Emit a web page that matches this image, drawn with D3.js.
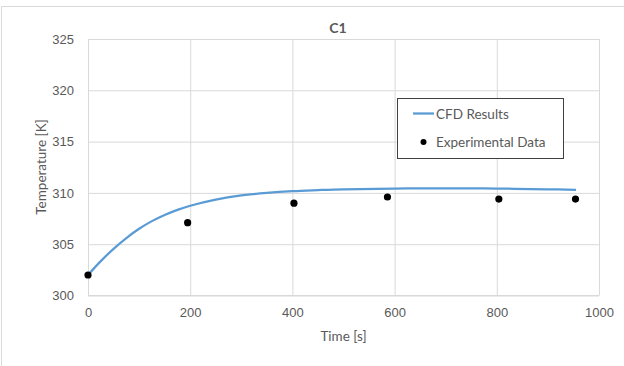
<!DOCTYPE html>
<html><head><meta charset="utf-8">
<script src="https://cdn.jsdelivr.net/npm/d3@7/dist/d3.min.js"></script>
<style>
html,body{margin:0;padding:0;background:#fff;}
svg{display:block;font-family:Lato,"Open Sans",sans-serif;}
</style></head>
<body>
<svg id="chart" width="624" height="366"></svg>
<script>
const chartTitle = "C1";
const xLabel = "Time [s]";
const yLabel = "Temperature [K]";
const xTicks = [0, 200, 400, 600, 800, 1000];
const yTicks = [300, 305, 310, 315, 320, 325];
const cfdTime = [0, 25, 50, 75, 100, 125, 150, 175, 200, 250, 300, 350, 400, 450, 500, 600, 700, 800, 900, 955];
const cfdTemp = [302.0, 303.35, 304.55, 305.6, 306.5, 307.25, 307.85, 308.35, 308.75, 309.35, 309.75, 310.0, 310.17, 310.27, 310.35, 310.42, 310.45, 310.42, 310.35, 310.3];
const expTime = [0, 195, 403, 586, 804, 954];
const expTemp = [302.0, 307.1, 309.0, 309.6, 309.4, 309.4];
const legendLabels = ["CFD Results", "Experimental Data"];

const svg = d3.select("#chart");
const m = {left: 88, right: 599, top: 39, bottom: 295.5};
const x = d3.scaleLinear().domain([0, 1000]).range([m.left, m.right]);
const y = d3.scaleLinear().domain([300, 325]).range([m.bottom, m.top]);
const txt = "#595959";

// outer frame (partially visible)
svg.append("path").attr("d", "M1.5,366 L1.5,6.5 L624,6.5")
  .attr("fill", "none").attr("stroke", "#d9d9d9").attr("stroke-width", 1);

// gridlines + ticks
const gx = svg.append("g").attr("transform", `translate(0,${m.bottom})`)
  .call(d3.axisBottom(x).tickValues(xTicks).tickSize(-(m.bottom - m.top)).tickFormat(d3.format("d")).tickPadding(12));
gx.select(".domain").remove();
gx.selectAll("line").attr("stroke", "#d9d9d9");
gx.selectAll("text").attr("fill", txt).attr("font-size", 13);

const gy = svg.append("g").attr("transform", `translate(${m.left},0)`)
  .call(d3.axisLeft(y).tickValues(yTicks).tickSize(-(m.right - m.left)).tickFormat(d3.format("d")).tickPadding(14));
gy.select(".domain").remove();
gy.selectAll("line").attr("stroke", "#d9d9d9");
gy.selectAll("text").attr("fill", txt).attr("font-size", 13);

svg.append("line").attr("x1", m.left).attr("x2", m.right).attr("y1", m.bottom).attr("y2", m.bottom)
  .attr("stroke", "#d9d9d9");

// title
svg.append("text").attr("x", 338).attr("y", 33).attr("text-anchor", "middle")
  .attr("font-size", 14).attr("font-weight", "bold").attr("fill", txt).text(chartTitle);

// axis labels
svg.append("text").attr("x", (m.left + m.right) / 2).attr("y", 341).attr("text-anchor", "middle")
  .attr("font-size", 13.5).attr("fill", txt).text(xLabel);
svg.append("text").attr("transform", "translate(46,167) rotate(-90)").attr("text-anchor", "middle")
  .attr("font-size", 13.5).attr("fill", txt).text(yLabel);

// CFD line
const cfd = cfdTime.map((t, i) => [t, cfdTemp[i]]);
svg.append("path").datum(cfd)
  .attr("d", d3.line().x(d => x(d[0])).y(d => y(d[1])).curve(d3.curveCatmullRom.alpha(0.5)))
  .attr("fill", "none").attr("stroke", "#5b9bd5").attr("stroke-width", 2.25);

// experimental points
svg.append("g").selectAll("circle").data(expTime.map((t, i) => [t, expTemp[i]]))
  .join("circle").attr("cx", d => x(d[0])).attr("cy", d => y(d[1])).attr("r", 3.6).attr("fill", "#000");

// legend
const lg = svg.append("g");
lg.append("rect").attr("x", 397.5).attr("y", 98.5).attr("width", 166).attr("height", 60)
  .attr("fill", "#fff").attr("stroke", "#404040").attr("stroke-width", 1);
lg.append("line").attr("x1", 413).attr("x2", 434).attr("y1", 113.5).attr("y2", 113.5)
  .attr("stroke", "#5b9bd5").attr("stroke-width", 2.25);
lg.append("text").attr("x", 436).attr("y", 118.5).attr("font-size", 13.5).attr("fill", txt).text(legendLabels[0]);
lg.append("circle").attr("cx", 423.5).attr("cy", 142).attr("r", 3).attr("fill", "#000");
lg.append("text").attr("x", 436).attr("y", 147).attr("font-size", 13.5).attr("fill", txt).text(legendLabels[1]);
</script>
</body></html>
